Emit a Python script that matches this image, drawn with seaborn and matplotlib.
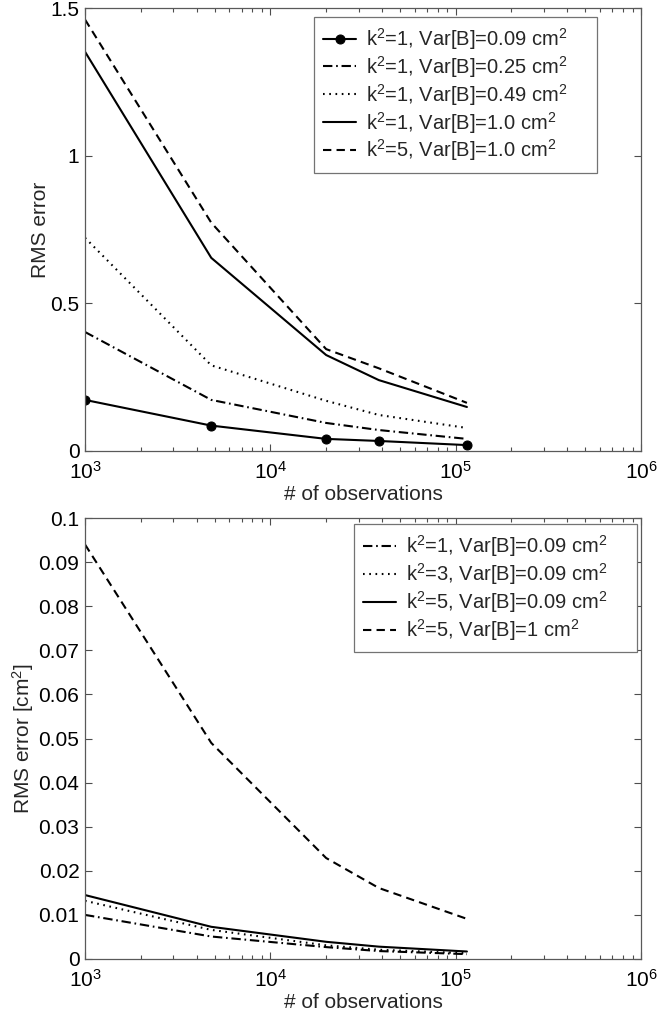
import numpy as np
import pandas as pd
import matplotlib
matplotlib.use("Agg")
import matplotlib.pyplot as plt
import matplotlib.ticker as mticker
import seaborn as sns

# number of observations (x positions shared by every curve)
obs = [1000, 4800, 20000, 38500, 115000]

# top panel: RMS error
top_labels = [r"k$^2$=1, Var[B]=0.09 cm$^2$",
              r"k$^2$=1, Var[B]=0.25 cm$^2$",
              r"k$^2$=1, Var[B]=0.49 cm$^2$",
              r"k$^2$=1, Var[B]=1.0 cm$^2$",
              r"k$^2$=5, Var[B]=1.0 cm$^2$"]
top_k1_v009 = [0.173, 0.086, 0.041, 0.034, 0.020]
top_k1_v025 = [0.403, 0.173, 0.095, 0.071, 0.041]
top_k1_v049 = [0.722, 0.290, 0.170, 0.122, 0.078]
top_k1_v100 = [1.352, 0.654, 0.325, 0.240, 0.149]
top_k5_v100 = [1.461, 0.773, 0.345, 0.280, 0.163]

# bottom panel: RMS error [cm^2]
bot_labels = [r"k$^2$=1, Var[B]=0.09 cm$^2$",
              r"k$^2$=3, Var[B]=0.09 cm$^2$",
              r"k$^2$=5, Var[B]=0.09 cm$^2$",
              r"k$^2$=5, Var[B]=1 cm$^2$"]
bot_k1_v009 = [0.0100, 0.0051, 0.0027, 0.0018, 0.0011]
bot_k3_v009 = [0.0132, 0.0066, 0.0031, 0.0021, 0.0013]
bot_k5_v009 = [0.0145, 0.0073, 0.0039, 0.0028, 0.0017]
bot_k5_v1 = [0.094, 0.049, 0.0229, 0.0161, 0.0091]

sns.set_theme(style="white")
plt.rcParams["font.family"] = ["Liberation Sans", "DejaVu Sans"]
plt.rcParams["mathtext.fontset"] = "custom"
plt.rcParams["mathtext.rm"] = "Liberation Sans"
plt.rcParams["mathtext.it"] = "Liberation Sans:italic"
plt.rcParams["mathtext.bf"] = "Liberation Sans:bold"

DASH = (0, (4, 2.5))
DOT = (0, (0.8, 2.2))
DASHDOT = (0, (4.5, 1.8, 0.8, 1.8))
LW = 1.5
FS = 15

fig = plt.figure(figsize=(6.59, 10.17), dpi=100)
W, H = 659, 1017
ax1 = fig.add_axes([85 / W, (H - 451) / H, 556 / W, 443 / H])
ax2 = fig.add_axes([85 / W, (H - 959) / H, 556 / W, 441 / H])


def draw(ax, series, labels, styles, markers):
    for vals, lab, ls, mk in zip(series, labels, styles, markers):
        df = pd.DataFrame({"obs": obs, "rms": vals})
        sns.lineplot(data=df, x="obs", y="rms", ax=ax, color="black",
                     linestyle=ls, linewidth=LW, marker=mk, markersize=6.5,
                     markeredgecolor="black", label=lab)


def style_axes(ax, ymax, yticks, ylabel, ypad):
    ax.set_xscale("log")
    ax.set_xlim(1e3, 1e6)
    ax.set_ylim(0, ymax)
    ax.xaxis.set_major_locator(mticker.LogLocator(base=10, numticks=10))
    ax.xaxis.set_minor_locator(mticker.LogLocator(base=10, subs=np.arange(2, 10), numticks=20))
    ax.xaxis.set_minor_formatter(mticker.NullFormatter())
    ax.set_yticks(yticks)
    ax.yaxis.set_major_formatter(mticker.FormatStrFormatter("%g"))
    ax.tick_params(which="both", direction="in", bottom=True, left=True,
                   top=True, right=True, labelsize=FS, colors="0.3",
                   labelcolor="black", width=0.8)
    ax.tick_params(which="major", length=5, pad=4)
    ax.tick_params(which="minor", length=3)
    ax.tick_params(axis="x", which="major", pad=7)
    for sp in ax.spines.values():
        sp.set_color("0.35")
        sp.set_linewidth(0.9)
    ax.set_xlabel("# of observations", fontsize=FS, labelpad=2)
    ax.set_ylabel(ylabel, fontsize=FS, labelpad=ypad)


def add_legend(ax, x0, top):
    leg = ax.legend(loc="upper left", bbox_to_anchor=(x0, top - 0.5, 0.509, 0.5),
                    mode="expand", fontsize=14.5, frameon=True, fancybox=False,
                    edgecolor="0.45", framealpha=1, handlelength=1.65,
                    handletextpad=0.5, labelspacing=0.1, borderpad=0.45,
                    borderaxespad=0)
    leg.get_frame().set_linewidth(0.9)
    return leg


draw(ax1, [top_k1_v009, top_k1_v025, top_k1_v049, top_k1_v100, top_k5_v100],
     top_labels, ["-", DASHDOT, DOT, "-", DASH], ["o", None, None, None, None])
style_axes(ax1, 1.5, [0, 0.5, 1, 1.5], "RMS error", 0)
add_legend(ax1, 0.412, 0.98)

draw(ax2, [bot_k1_v009, bot_k3_v009, bot_k5_v009, bot_k5_v1],
     bot_labels, [DASHDOT, DOT, "-", DASH], [None, None, None, None])
style_axes(ax2, 0.1, np.round(np.arange(0, 0.1001, 0.01), 2), r"RMS error [cm$^2$]", 1.5)
add_legend(ax2, 0.484, 0.986)

fig.savefig("out.png", dpi=100)
